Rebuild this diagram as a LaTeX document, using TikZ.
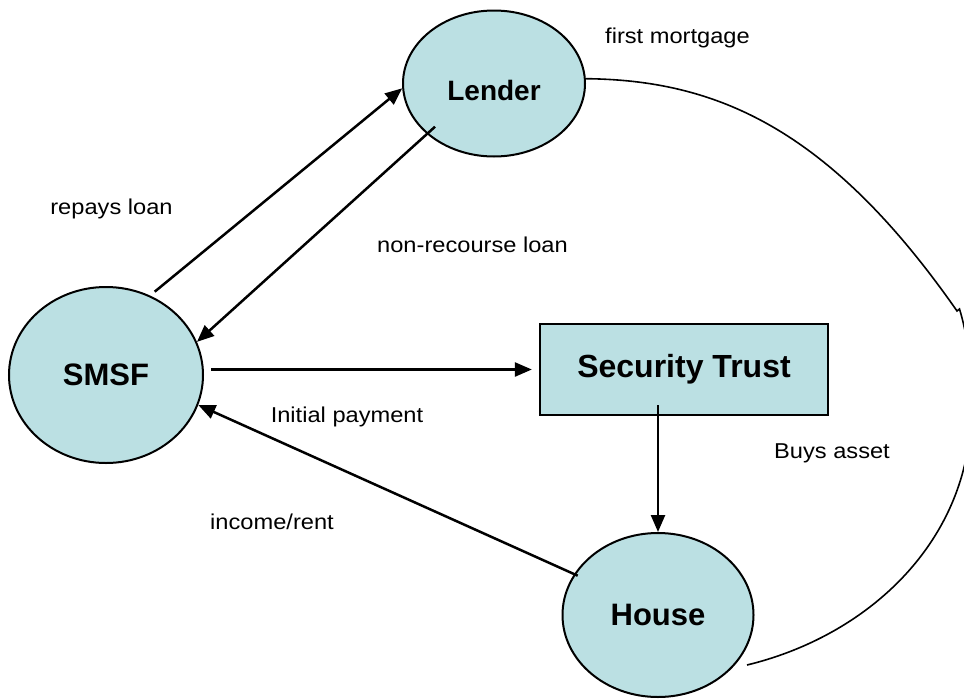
\documentclass[tikz,border=0pt]{standalone}
\usepackage{fontspec}
\setmainfont{Liberation Sans}
\newfontfamily\lblfont[FakeStretch=1.1]{Liberation Sans}
\usetikzlibrary{arrows.meta,shapes.geometric}
\definecolor{nodefill}{RGB}{187,224,227}
\begin{document}
\begin{tikzpicture}[x=1pt,y=-1pt,
  party/.style={ellipse,draw=black,line width=2pt,fill=nodefill,inner sep=0pt},
  trustbox/.style={rectangle,draw=black,line width=2.3pt,fill=nodefill,inner sep=0pt,
    font=\bfseries\fontsize{32}{36}\selectfont,minimum width=288pt,minimum height=91pt},
  flow/.style={line width=2.5pt,-{Triangle[length=17pt,width=14pt]}},
  mortgage/.style={line width=1.6pt},
  lbl/.style={font=\lblfont\fontsize{21.5}{26}\selectfont,inner sep=0pt}]
\useasboundingbox (0,0) rectangle (964,699);

% parties
\node[party,minimum width=182pt,minimum height=146pt,
      font=\bfseries\fontsize{28}{32}\selectfont,text height=34pt,text depth=0pt]
      (L) at (494,83.5) {Lender};
\node[party,minimum width=194pt,minimum height=176pt,
      font=\bfseries\fontsize{31}{36}\selectfont] (S) at (106,375) {SMSF};
\node[trustbox] (T) at (684,369.5) {Security Trust};
\node[party,minimum width=191pt,minimum height=164pt,
      font=\bfseries\fontsize{31}{36}\selectfont] (H) at (658,615) {House};

% money and asset flows
\draw[flow,shorten <=6pt] (S.61) -- (L.183);
\draw[flow,shorten <=-11pt] (L.217) -- (S.20);
\draw[flow,shorten <=7pt,shorten >=7pt] (S.east |- T.west) -- (T.west);
\draw[flow,shorten <=-11pt] (T.south -| H.north) -- (H.north);
\draw[flow,shorten <=-4pt] (H.154) -- (S.-18);

% first mortgage link from the lender round to the house
\coordinate (kinkA) at (957,311);
\coordinate (kinkB) at (959.5,309);
\coordinate (swing) at (962,475);
\coordinate (mortEnd) at (747,665);
\draw[mortgage] (L.3) .. controls (714,80) and (828,126) .. (kinkA) -- (kinkB)
  .. controls (975,360) and (975,430) .. (swing)
  .. controls (935,570) and (850,640) .. (mortEnd);

% labels
\node[lbl] (lblMort) at (677.5,37.5) {first mortgage};
\node[lbl] (lblRepay) at (111.5,209) {repays loan};
\node[lbl] (lblNR) at (472.5,245) {non-recourse loan};
\node[lbl] (lblInit) at (347,417) {Initial payment};
\node[lbl] (lblBuy) at (832,453) {Buys asset};
\node[lbl] (lblRent) at (272,522) {income/rent};
\end{tikzpicture}
\end{document}
